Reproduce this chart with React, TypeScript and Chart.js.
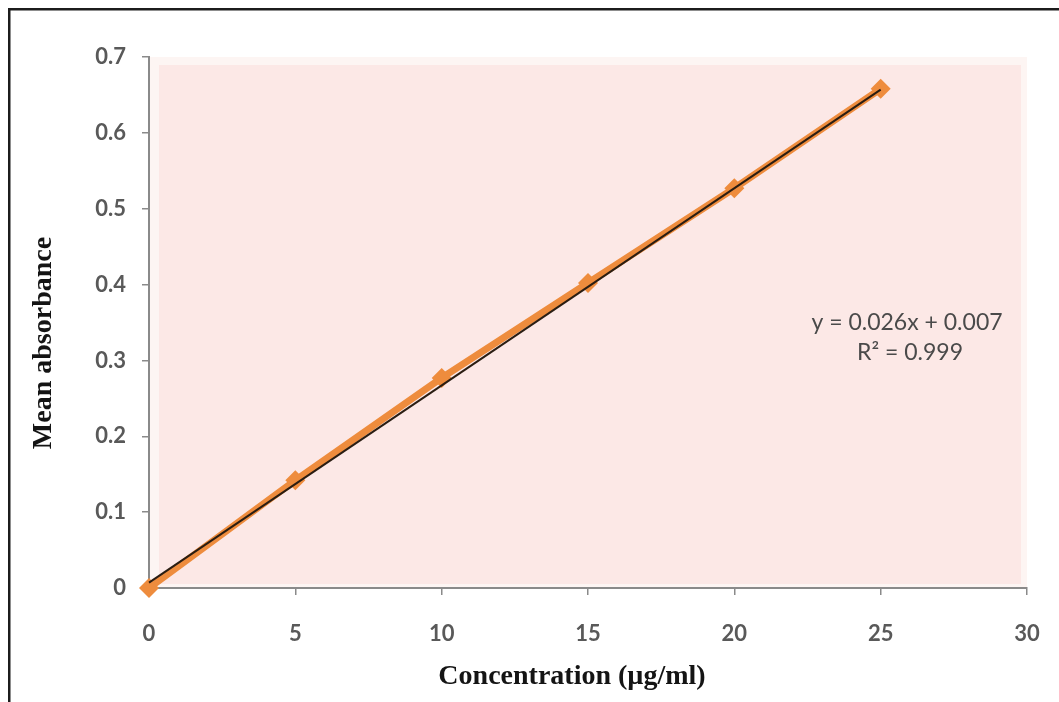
import React, { useEffect, useRef } from "react";
import { Chart, registerables } from "chart.js";

Chart.register(...registerables);

const concentrations = [0, 5, 10, 15, 20, 25];
const absorbance = [0, 0.142, 0.277, 0.402, 0.527, 0.658];
const trendSlope = 0.026;
const trendIntercept = 0.007;
const xTicks = [0, 5, 10, 15, 20, 25, 30];
const yTicks = [0, 0.1, 0.2, 0.3, 0.4, 0.5, 0.6, 0.7];
const equationLines = ["y = 0.026x + 0.007", "R² = 0.999"];
const xTitle = "Concentration (µg/ml)";
const yTitle = "Mean absorbance";

const tickFont = "Lato";

const decorPlugin = {
  id: "decor",
  beforeDraw(chart: any) {
    const { ctx, chartArea } = chart;
    const { left, right, top, bottom } = chartArea;
    ctx.save();
    ctx.fillStyle = "#fdf5f3";
    ctx.fillRect(left, top, right - left, bottom - top);
    ctx.fillStyle = "#fce8e6";
    ctx.fillRect(left + 10, top + 8, right - left - 16, bottom - top - 12);
    ctx.restore();
  },
  afterDraw(chart: any) {
    const { ctx } = chart;
    ctx.save();
    // frame
    ctx.fillStyle = "#1c1c1c";
    ctx.fillRect(8, 8, 2.5, 702);
    ctx.fillRect(8, 8, 1059, 2.5);
    // titles
    ctx.fillStyle = "#141414";
    ctx.font = "bold 28px 'Liberation Serif'";
    ctx.textAlign = "center";
    ctx.textBaseline = "middle";
    ctx.fillText(xTitle, 572, 677);
    ctx.save();
    ctx.translate(44, 343);
    ctx.rotate(-Math.PI / 2);
    ctx.fillText(yTitle, 0, 0);
    ctx.restore();
    // equation
    ctx.fillStyle = "#4a4a4a";
    ctx.font = `23px ${tickFont}`;
    ctx.fillText(equationLines[0], 907, 323);
    ctx.fillText(equationLines[1], 910, 353);
    ctx.restore();
  },
};

export default function App() {
  const ref = useRef<HTMLCanvasElement | null>(null);
  useEffect(() => {
    if (!ref.current) return;
    const points = concentrations.map((x, i) => ({ x, y: absorbance[i] }));
    const x0 = concentrations[0];
    const x1 = concentrations[concentrations.length - 1];
    const trend = [
      { x: x0, y: trendSlope * x0 + trendIntercept },
      { x: x1, y: trendSlope * x1 + trendIntercept },
    ];
    const chart = new Chart(ref.current, {
      type: "scatter",
      data: {
        datasets: [
          {
            label: "Trend",
            data: trend,
            showLine: true,
            borderColor: "#2a1d12",
            borderWidth: 2,
            pointRadius: 0,
            order: 0,
            clip: false as any,
          },
          {
            label: "Mean absorbance",
            data: points,
            showLine: true,
            borderColor: "#ee8c3d",
            backgroundColor: "#ee8c3d",
            borderWidth: 7,
            pointStyle: "rectRot",
            pointRadius: 10,
            pointBorderWidth: 0,
            order: 1,
            clip: false as any,
          },
        ],
      },
      options: {
        animation: false,
        responsive: true,
        maintainAspectRatio: false,
        layout: { padding: { left: 0, right: 32, top: 57, bottom: 0 } },
        plugins: {
          legend: { display: false },
          tooltip: { enabled: false },
        },
        scales: {
          x: {
            type: "linear",
            min: 0,
            max: 30,
            afterBuildTicks: (s: any) => {
              s.ticks = xTicks.map((v) => ({ value: v }));
            },
            afterFit: (s: any) => {
              s.height = 114;
              s.paddingLeft = 0;
              s.paddingRight = 0;
            },
            ticks: {
              color: "#595959",
              font: { family: tickFont, size: 22, weight: "bold" },
              padding: 26,
            },
            grid: {
              drawOnChartArea: false,
              drawTicks: true,
              tickLength: 7,
              color: "#8a8a8a",
              lineWidth: 1.5,
            },
            border: { display: true, color: "#8a8a8a", width: 2 },
          },
          y: {
            type: "linear",
            min: 0,
            max: 0.7,
            afterBuildTicks: (s: any) => {
              s.ticks = yTicks.map((v) => ({ value: v }));
            },
            afterFit: (s: any) => {
              s.width = 149;
              s.paddingTop = 0;
              s.paddingBottom = 0;
            },
            ticks: {
              color: "#595959",
              font: { family: tickFont, size: 22, weight: "bold" },
              padding: 16,
              callback: (v: any) => String(Math.round(Number(v) * 10) / 10),
            },
            grid: {
              drawOnChartArea: false,
              drawTicks: true,
              tickLength: 7,
              color: "#8a8a8a",
              lineWidth: 1.5,
            },
            border: { display: true, color: "#8a8a8a", width: 2 },
          },
        },
      },
      plugins: [decorPlugin],
    });
    return () => chart.destroy();
  }, []);
  return (
    <div style={{ position: "absolute", left: 0, top: 0, width: 1059, height: 702, background: "#fff" }}>
      <canvas ref={ref} />
    </div>
  );
}
